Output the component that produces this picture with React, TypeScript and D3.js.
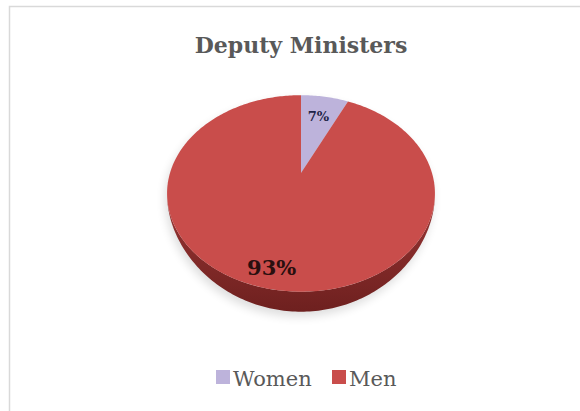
import React from "react";
import * as d3 from "d3";

const title = "Deputy Ministers";
const categories = ["Women", "Men"];
const values = [7, 93];
const colors = ["#BDB3DB", "#C94D4B"];
const sideColors = [["#9A8FBF", "#6E6494"], ["#A23A38", "#6E201F"]];
const labels = ["7%", "93%"];

const W = 580;
const H = 411;
const cx = 301;
const cy = 173;
const A = 131;
const K = 94;
const E = 0.208;
const D = 20;

function proj(theta: number, r = 1, dy = 0): [number, number] {
  const s = 1 / (1 + E * r * Math.cos(theta));
  return [cx + A * r * Math.sin(theta) * s, cy - K * r * Math.cos(theta) * s + dy];
}

function depth(theta: number): number {
  const c = Math.cos(theta);
  return c < 0 ? D * c * c : 0;
}

function arcPoints(a0: number, a1: number, withDepth = false): [number, number][] {
  const n = Math.max(2, Math.ceil(((a1 - a0) / (2 * Math.PI)) * 360));
  const pts: [number, number][] = [];
  for (let i = 0; i <= n; i++) {
    const t = a0 + ((a1 - a0) * i) / n;
    pts.push(proj(t, 1, withDepth ? depth(t) : 0));
  }
  return pts;
}

export default function App() {
  const pie = d3.pie<number>().sort(null).value((d) => d)(values);
  const line = d3.line().curve(d3.curveLinear);
  const t1 = Math.PI / 2;
  const t2 = (3 * Math.PI) / 2;

  const sides = pie.map((p, i) => {
    const a0 = Math.max(p.startAngle, t1);
    const a1 = Math.min(p.endAngle, t2);
    if (a1 <= a0) return null;
    const top = arcPoints(a0, a1, false);
    const bot = arcPoints(a0, a1, true).reverse();
    return (
      <path key={"s" + i} d={line([...top, ...bot])! + "Z"} fill={`url(#side${i})`} />
    );
  });

  const faces = pie.map((p, i) => {
    const pts: [number, number][] = [proj(0, 0), ...arcPoints(p.startAngle, p.endAngle)];
    return <path key={"f" + i} d={line(pts)! + "Z"} fill={colors[i]} />;
  });

  const labelR = [0.7, 0.85];
  const labelSize = [13, 21];
  const labelColor = ["#1E2347", "#2A0F0F"];
  const lbls = pie.map((p, i) => {
    const mid = (p.startAngle + p.endAngle) / 2;
    const [x, y] = proj(mid, labelR[i]);
    return (
      <text
        key={"l" + i}
        x={x}
        y={y}
        textAnchor="middle"
        dominantBaseline="central"
        fontFamily="'DejaVu Serif', serif"
        fontWeight="bold"
        fontSize={labelSize[i]}
        fill={labelColor[i]}
      >
        {labels[i]}
      </text>
    );
  });

  const shadowPts = arcPoints(0, 2 * Math.PI, true).map(
    ([x, y]) => [x - 2, y + 5] as [number, number]
  );

  const legendX = [216, 332];
  return (
    <svg
      width={W}
      height={H}
      style={{ position: "absolute", left: 0, top: 0, background: "#fff" }}
    >
      <defs>
        {sideColors.map((c, i) => (
          <linearGradient key={i} id={`side${i}`} x1="0" y1="0" x2="0" y2="1">
            <stop offset="0%" stopColor={c[0]} />
            <stop offset="100%" stopColor={c[1]} />
          </linearGradient>
        ))}
        <filter id="blur" x="-20%" y="-20%" width="140%" height="140%">
          <feGaussianBlur stdDeviation="5" />
        </filter>
      </defs>
      <rect x={0} y={0} width={W} height={H} fill="#fff" />
      <path d={`M9.5,${H} V6.5 H${W}`} fill="none" stroke="#D9D9D9" strokeWidth={1.5} />
      <text
        x={301}
        y={53}
        textAnchor="middle"
        fontFamily="'DejaVu Serif', serif"
        fontWeight="bold"
        fontSize={22}
        fill="#595959"
      >
        {title}
      </text>
      <path d={line(shadowPts)! + "Z"} fill="#000" opacity={0.13} filter="url(#blur)" />
      {sides}
      {faces}
      {lbls}
      {categories.map((c, i) => (
        <g key={c}>
          <rect x={legendX[i]} y={370} width={14} height={14} fill={colors[i]} />
          <text
            x={legendX[i] + 17}
            y={386}
            fontFamily="'DejaVu Serif', serif"
            fontSize={21}
            fill="#595959"
          >
            {c}
          </text>
        </g>
      ))}
    </svg>
  );
}
